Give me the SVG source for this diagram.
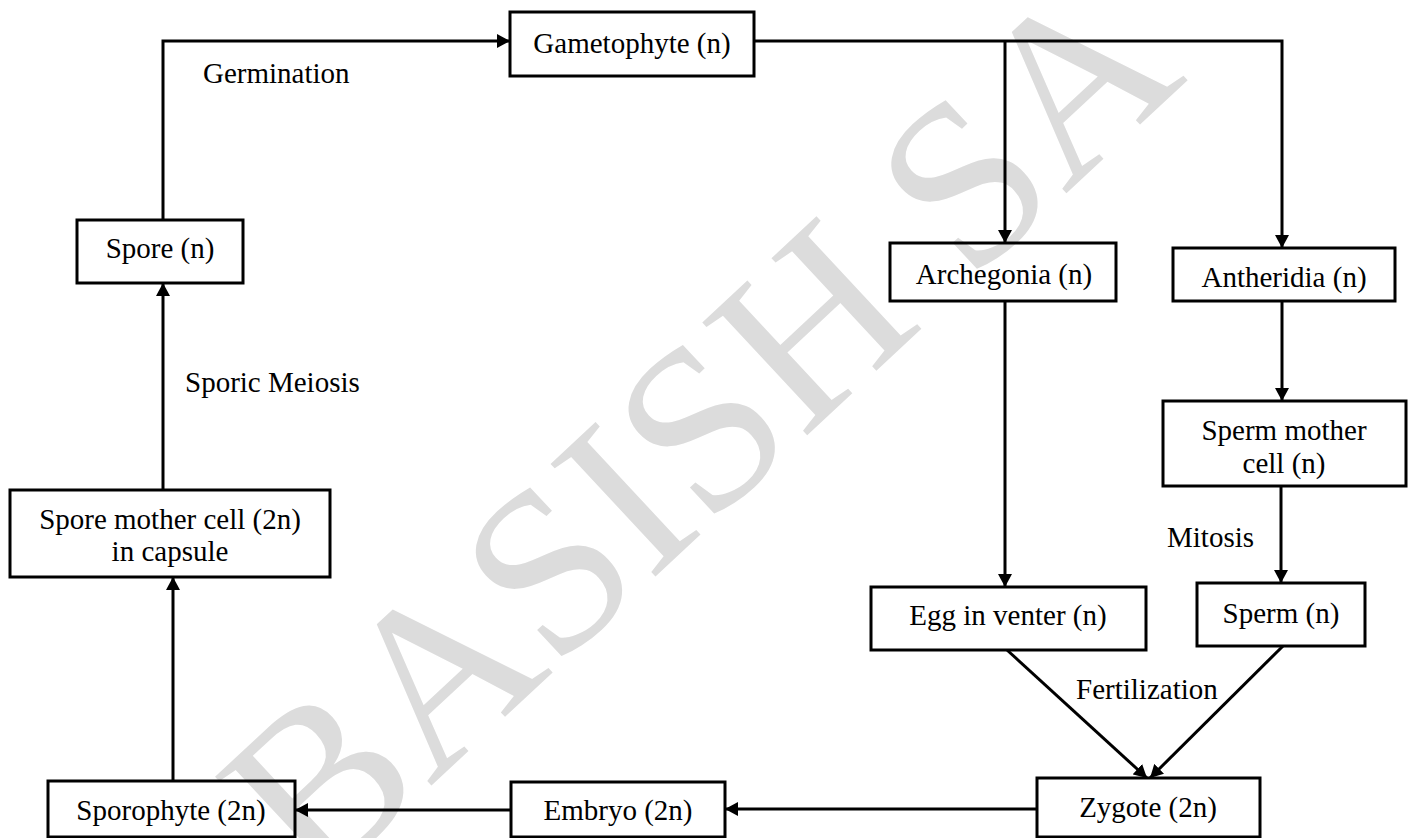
<svg xmlns="http://www.w3.org/2000/svg" width="1411" height="838" viewBox="0 0 1411 838">
<style>
.box{fill:none;stroke:#000;stroke-width:3}
.t{font-family:"Liberation Serif","Times New Roman",serif;font-size:29px;fill:#000}
.c{text-anchor:middle}
.ln{fill:none;stroke:#000;stroke-width:3}
.wm{font-family:"Liberation Serif","Times New Roman",serif;font-size:235px;fill:#dcdcdc}
</style>
<defs>
<marker id="ah" markerUnits="userSpaceOnUse" markerWidth="14" markerHeight="14" refX="13" refY="7" orient="auto">
<path d="M0,0 L13,7 L0,14 z" fill="#000"/>
</marker>
</defs>
<rect width="1411" height="838" fill="#fff"/>
<g id="watermark">
<text class="wm" transform="translate(315,894) rotate(-43)">BASISH SA</text>
</g>
<g id="connectors">
<path class="ln" d="M163,220 V41 H510" marker-end="url(#ah)"/>
<path class="ln" d="M754,41 H1282 V248" marker-end="url(#ah)"/>
<path class="ln" d="M1005,41 V243" marker-end="url(#ah)"/>
<path class="ln" d="M1005,301 V587" marker-end="url(#ah)"/>
<path class="ln" d="M1282,301 V401" marker-end="url(#ah)"/>
<path class="ln" d="M1281,486 V583" marker-end="url(#ah)"/>
<path class="ln" d="M1007,650 L1147,778" marker-end="url(#ah)"/>
<path class="ln" d="M1283,646 L1150,778" marker-end="url(#ah)"/>
<path class="ln" d="M1037,809 H725" marker-end="url(#ah)"/>
<path class="ln" d="M511,810 H295" marker-end="url(#ah)"/>
<path class="ln" d="M173,781 V577" marker-end="url(#ah)"/>
<path class="ln" d="M163,490 V283" marker-end="url(#ah)"/>
<text class="t" x="203" y="83">Germination</text>
<text class="t" x="185" y="392">Sporic Meiosis</text>
<text class="t" x="1167" y="547">Mitosis</text>
<text class="t" x="1076" y="699">Fertilization</text>
</g>
<g id="gametophyte"><rect class="box" x="510" y="12" width="244" height="64"/><text class="t c" x="632" y="53">Gametophyte (n)</text></g>
<g id="spore"><rect class="box" x="77" y="220" width="166" height="63"/><text class="t c" x="160" y="258">Spore (n)</text></g>
<g id="spore-mother-cell"><rect class="box" x="10" y="490" width="320" height="87"/><text class="t c" x="170" y="529">Spore mother cell (2n)</text><text class="t c" x="170" y="561">in capsule</text></g>
<g id="sporophyte"><rect class="box" x="48" y="781" width="247" height="56"/><text class="t c" x="171" y="820">Sporophyte (2n)</text></g>
<g id="embryo"><rect class="box" x="511" y="782" width="214" height="55"/><text class="t c" x="618" y="820">Embryo (2n)</text></g>
<g id="zygote"><rect class="box" x="1037" y="778" width="223" height="59"/><text class="t c" x="1148" y="817">Zygote (2n)</text></g>
<g id="archegonia"><rect class="box" x="890" y="243" width="226" height="58"/><text class="t c" x="1004" y="284">Archegonia (n)</text></g>
<g id="antheridia"><rect class="box" x="1173" y="248" width="222" height="53"/><text class="t c" x="1284" y="287">Antheridia (n)</text></g>
<g id="sperm-mother-cell"><rect class="box" x="1163" y="401" width="243" height="85"/><text class="t c" x="1284" y="440">Sperm mother</text><text class="t c" x="1284" y="473">cell (n)</text></g>
<g id="egg"><rect class="box" x="871" y="587" width="275" height="63"/><text class="t c" x="1008" y="625">Egg in venter (n)</text></g>
<g id="sperm"><rect class="box" x="1197" y="583" width="168" height="63"/><text class="t c" x="1281" y="623">Sperm (n)</text></g>
</svg>
